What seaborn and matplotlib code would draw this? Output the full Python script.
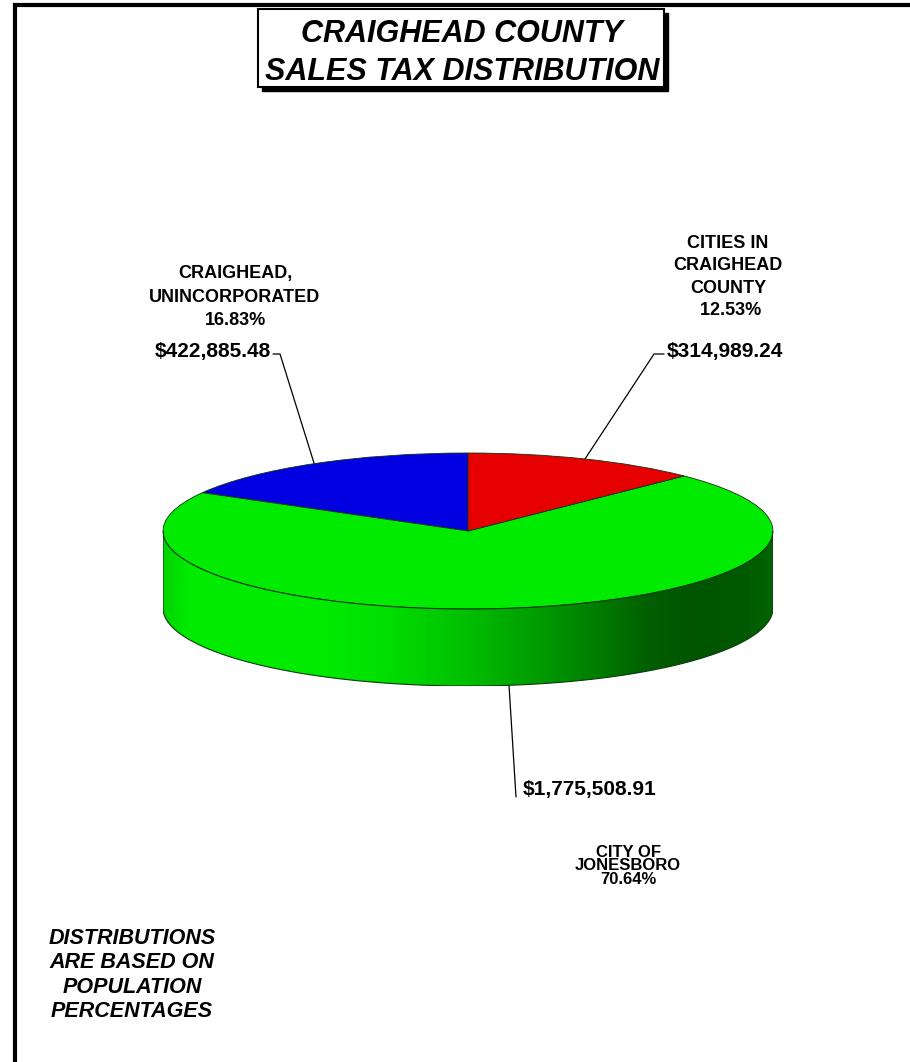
import numpy as np
import matplotlib
matplotlib.use("Agg")
import matplotlib.pyplot as plt
import seaborn as sns
from matplotlib.patches import Rectangle, Polygon
from matplotlib.colors import to_rgb

# ============================================================
# DATA
# ============================================================
regions = ["CRAIGHEAD,\nUNINCORPORATED", "CITY OF\nJONESBORO", "CITIES IN\nCRAIGHEAD\nCOUNTY"]
amounts = [422885.48, 1775508.91, 314989.24]
colors = ["#0000e1", "#00eb00", "#e60000"]
title = "CRAIGHEAD COUNTY\nSALES TAX DISTRIBUTION"
note = "DISTRIBUTIONS\nARE BASED ON\nPOPULATION\nPERCENTAGES"

total = sum(amounts)
pcts = [a / total * 100 for a in amounts]

# ============================================================
# FIGURE
# ============================================================
sns.set_theme(style="white")
plt.rcParams["font.family"] = ["Liberation Sans", "DejaVu Sans"]
plt.rcParams["text.color"] = "black"

W, H = 910, 1062
fig = plt.figure(figsize=(W / 100, H / 100), dpi=100)
ax = fig.add_axes([0, 0, 1, 1])
ax.set_xlim(0, W)
ax.set_ylim(H, 0)
ax.axis("off")

# frame (top + left)
ax.plot([15, 15, W], [H, 5, 5], color="black", lw=3, solid_joinstyle="miter")

# title box with shadow
ax.add_patch(Rectangle((262, 13), 406, 78, facecolor="black", edgecolor="black", lw=1))
ax.add_patch(Rectangle((258, 9), 406, 78, facecolor="white", edgecolor="black", lw=1.5))
ax.text(462, 53, title, ha="center", va="center", fontsize=22, fontweight="bold",
        fontstyle="italic", linespacing=1.32)

# ============================================================
# 3D PIE
# ============================================================
cx, cy, rx, ry, depth = 468, 531, 305, 78, 77
d = depth / ry
pax = fig.add_axes([(cx - rx) / W, (H - (cy + ry + depth)) / H, 2 * rx / W, (2 * ry + depth) / H])
wedges, _ = pax.pie(amounts, colors=colors, startangle=90, counterclock=True, radius=1,
                    wedgeprops=dict(edgecolor="#153015", linewidth=0.6))

# side shading profile (left -> right)
gx = [0, 0.04, 0.25, 0.35, 0.5, 0.6, 0.7, 0.8, 0.87, 0.95, 1.0]
gf = [0.9, 1.0, 1.0, 0.96, 0.81, 0.68, 0.55, 0.40, 0.36, 0.38, 0.43]
xs = np.linspace(0, 1, 400)
shade = np.interp(xs, gx, gf)

for w, col in zip(wedges, colors):
    for off in (0, 360):
        lo = max(w.theta1 - off, 180)
        hi = min(w.theta2 - off, 360)
        if hi <= lo:
            continue
        t = np.radians(np.linspace(lo, hi, 200))
        top = np.column_stack([np.cos(t), np.sin(t)])
        bot = np.column_stack([np.cos(t), np.sin(t) - d])[::-1]
        poly = Polygon(np.vstack([top, bot]), closed=True, facecolor="none",
                       edgecolor="#0b3a0b", lw=0.8, zorder=3)
        pax.add_patch(poly)
        img = np.array(to_rgb(col))[None, None, :] * shade[None, :, None]
        im = pax.imshow(img, extent=(-1, 1, -1 - d, 0), aspect="auto", zorder=2)
        im.set_clip_path(poly)

pax.set_aspect("auto")
pax.set_xlim(-1, 1)
pax.set_ylim(-1 - d, 1)
pax.axis("off")
pax.patch.set_visible(False)

# ============================================================
# LABELS
# ============================================================
def to_px(p):
    return ax.transData.inverted().transform(pax.transData.transform(p))

name_pos = [(235, 297), (628, 866), (728, 277)]
name_fs = [13, 12, 13]
name_ls = [1.5, 0.9, 1.42]
money_pos = [(271, 352, "right"), (523, 790, "left"), (667, 352, "left")]
elbows = [[(273, 354), (280, 354)], [(516, 797)], [(664, 354), (654, 354)]]

for i, w in enumerate(wedges):
    m = np.radians((w.theta1 + w.theta2) / 2)
    if np.sin(m) >= 0:
        anchor = to_px((np.cos(m), np.sin(m)))
    else:
        anchor = to_px((np.cos(m), np.sin(m) - d))
    pts = np.array(elbows[i] + [tuple(anchor)])
    ax.plot(pts[:, 0], pts[:, 1], color="black", lw=0.9)

    pct_txt = f"{pcts[i]:.2f}%"
    if i == 2:
        pct_txt = " " + pct_txt
    ax.text(name_pos[i][0], name_pos[i][1], f"{regions[i]}\n{pct_txt}", ha="center",
            va="center", fontsize=name_fs[i], fontweight="bold", linespacing=name_ls[i])
    mx, my, ha = money_pos[i]
    ax.text(mx, my, f"${amounts[i]:,.2f}", ha=ha, va="center", fontsize=15, fontweight="bold")

ax.text(132, 975, note, ha="center", va="center", fontsize=15.5, fontweight="bold",
        fontstyle="italic", linespacing=1.2)

fig.savefig("out.png", dpi=100)
